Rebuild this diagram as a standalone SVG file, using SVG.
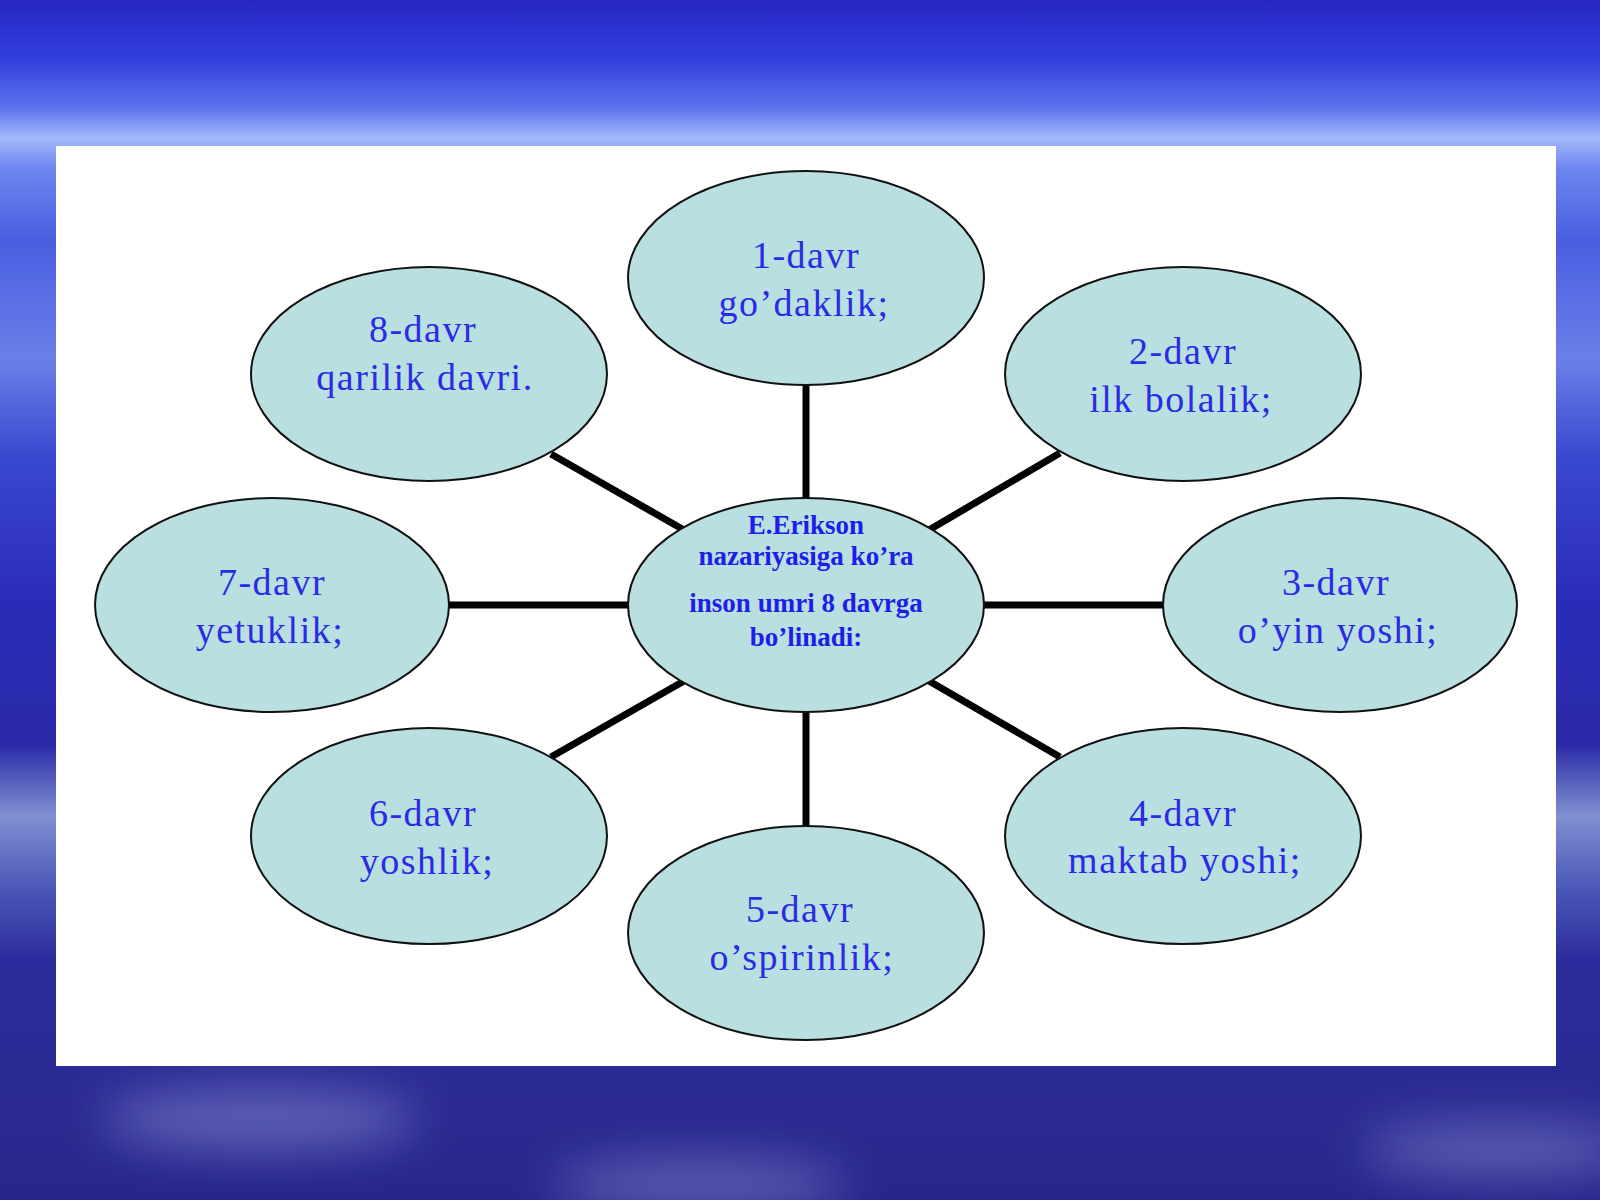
<svg xmlns="http://www.w3.org/2000/svg" width="1600" height="1200" viewBox="0 0 1600 1200">
<style>
.node{fill:#b9dfe1;stroke:#111;stroke-width:2}
.lbl{font-family:"Liberation Serif","Times New Roman",serif;font-size:38px;letter-spacing:1.5px;fill:#2b2be6;text-anchor:middle}
.ctr{font-family:"Liberation Serif","Times New Roman",serif;font-size:27px;font-weight:bold;fill:#1e1ee8;text-anchor:middle}
.conn line{stroke:#000;stroke-width:7}
</style>
<defs>
<linearGradient id="bg" x1="0" y1="0" x2="0" y2="1">
<stop offset="0" stop-color="#2626c4"/>
<stop offset="0.05" stop-color="#3340dc"/>
<stop offset="0.09" stop-color="#5d74ee"/>
<stop offset="0.115" stop-color="#a4b8fb"/>
<stop offset="0.14" stop-color="#6e86f0"/>
<stop offset="0.2" stop-color="#4a5ee0"/>
<stop offset="0.3" stop-color="#6a80e8"/>
<stop offset="0.38" stop-color="#3a48d0"/>
<stop offset="0.5" stop-color="#2a2cb8"/>
<stop offset="0.62" stop-color="#2a2aa8"/>
<stop offset="0.68" stop-color="#8090d0"/>
<stop offset="0.74" stop-color="#4a58b8"/>
<stop offset="0.8" stop-color="#2c2c9c"/>
<stop offset="0.92" stop-color="#2a2a92"/>
<stop offset="1" stop-color="#26268a"/>
</linearGradient>
<filter id="blur" x="-50%" y="-50%" width="200%" height="200%"><feGaussianBlur stdDeviation="25"/></filter>
</defs>
<rect x="0" y="0" width="1600" height="1200" fill="url(#bg)"/>
<g filter="url(#blur)" fill="#c8d0ff" opacity="0.35">
<ellipse cx="260" cy="1120" rx="160" ry="30"/>
<ellipse cx="700" cy="1185" rx="150" ry="25"/>
<ellipse cx="1500" cy="1150" rx="140" ry="25"/>
</g>
<rect x="56" y="146" width="1500" height="920" fill="#fff"/>
<g id="connectors" class="conn">
<line x1="806" y1="384" x2="806" y2="500"/>
<line x1="806" y1="710" x2="806" y2="828"/>
<line x1="447" y1="605" x2="630" y2="605"/>
<line x1="983" y1="605" x2="1165" y2="605"/>
<line x1="551" y1="454" x2="684" y2="530"/>
<line x1="929" y1="530" x2="1060" y2="453"/>
<line x1="684" y1="681" x2="551" y2="757"/>
<line x1="929" y1="681" x2="1060" y2="757"/>
</g>
<g id="center">
<ellipse class="node" cx="806" cy="605" rx="178" ry="107"/>
<text class="ctr" x="806" y="534">E.Erikson</text>
<text class="ctr" x="806" y="565">nazariyasiga ko’ra</text>
<text class="ctr" x="806" y="612">inson umri 8 davrga</text>
<text class="ctr" x="806" y="646">bo’linadi:</text>
</g>
<g id="n1">
<ellipse class="node" cx="806" cy="278" rx="178" ry="107"/>
<text class="lbl" x="806" y="268">1-davr</text>
<text class="lbl" x="804" y="316">go’daklik;</text>
</g>
<g id="n2">
<ellipse class="node" cx="1183" cy="374" rx="178" ry="107"/>
<text class="lbl" x="1183" y="364">2-davr</text>
<text class="lbl" x="1181" y="412">ilk bolalik;</text>
</g>
<g id="n3">
<ellipse class="node" cx="1340" cy="605" rx="177" ry="107"/>
<text class="lbl" x="1336" y="595">3-davr</text>
<text class="lbl" x="1338" y="643">o’yin yoshi;</text>
</g>
<g id="n4">
<ellipse class="node" cx="1183" cy="836" rx="178" ry="108"/>
<text class="lbl" x="1183" y="826">4-davr</text>
<text class="lbl" x="1185" y="873">maktab yoshi;</text>
</g>
<g id="n5">
<ellipse class="node" cx="806" cy="933" rx="178" ry="107"/>
<text class="lbl" x="800" y="922">5-davr</text>
<text class="lbl" x="802" y="970">o’spirinlik;</text>
</g>
<g id="n6">
<ellipse class="node" cx="429" cy="836" rx="178" ry="108"/>
<text class="lbl" x="423" y="826">6-davr</text>
<text class="lbl" x="427" y="874">yoshlik;</text>
</g>
<g id="n7">
<ellipse class="node" cx="272" cy="605" rx="177" ry="107"/>
<text class="lbl" x="272" y="595">7-davr</text>
<text class="lbl" x="270" y="643">yetuklik;</text>
</g>
<g id="n8">
<ellipse class="node" cx="429" cy="374" rx="178" ry="107"/>
<text class="lbl" x="423" y="342">8-davr</text>
<text class="lbl" x="425" y="390">qarilik davri.</text>
</g>
</svg>
